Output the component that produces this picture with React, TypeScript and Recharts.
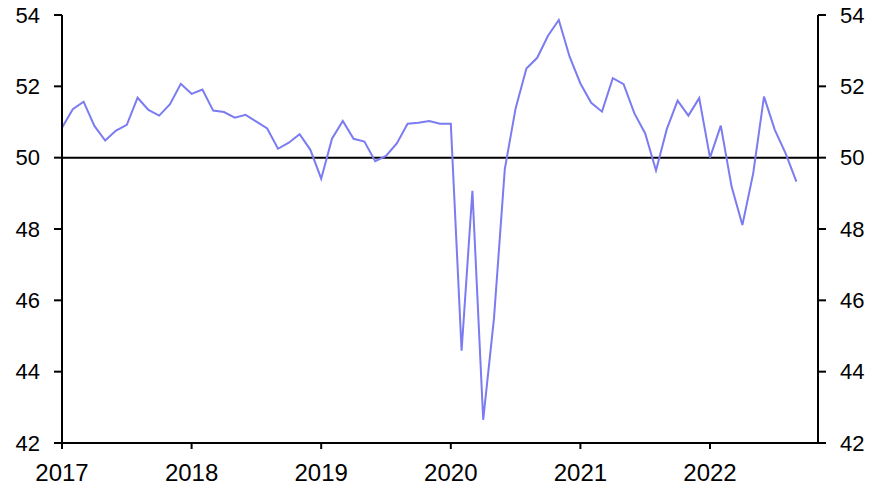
import React from "react";
import { LineChart, Line, XAxis, YAxis, ReferenceLine } from "recharts";

const values2017 = [50.84, 51.36, 51.57, 50.89, 50.48, 50.76, 50.92, 51.68, 51.34, 51.18, 51.5, 52.07];
const values2018 = [51.79, 51.91, 51.32, 51.28, 51.12, 51.2, 51.01, 50.82, 50.25, 50.42, 50.66, 50.22];
const values2019 = [49.41, 50.53, 51.03, 50.53, 50.45, 49.9, 50.05, 50.4, 50.95, 50.98, 51.03, 50.95];
const values2020 = [50.95, 44.59, 49.07, 42.65, 45.5, 49.68, 51.38, 52.5, 52.8, 53.42, 53.86, 52.83];
const values2021 = [52.08, 51.54, 51.29, 52.23, 52.06, 51.24, 50.68, 49.64, 50.8, 51.6, 51.18, 51.67];
const values2022 = [50.0, 50.9, 49.19, 48.11, 49.56, 51.71, 50.78, 50.12, 49.33];

const years = ["2017", "2018", "2019", "2020", "2021", "2022"];
const yTicks = [42, 44, 46, 48, 50, 52, 54];

const allValues = [...values2017, ...values2018, ...values2019, ...values2020, ...values2021, ...values2022];
const data = allValues.map((v, i) => ({ m: i, v }));
const xTicks = years.map((_, i) => i * 12);

const font = "'Liberation Sans', Arial, sans-serif";

export default function App() {
  return (
    <div style={{ position: "absolute", left: 0, top: 0, background: "#fff" }}>
      <LineChart width={883} height={495} data={data} margin={{ top: 15, right: 0, bottom: 0, left: 0 }}>
        <XAxis
          dataKey="m"
          type="number"
          domain={[0, 70]}
          ticks={xTicks}
          tickFormatter={(t: number) => years[Math.round(t / 12)]}
          height={52}
          stroke="#000"
          strokeWidth={2}
          tickSize={6}
          tickMargin={15}
          tick={{ fill: "#000", fontSize: 24, fontFamily: font }}
          allowDataOverflow
        />
        <YAxis
          yAxisId="left"
          orientation="left"
          domain={[42, 54]}
          ticks={yTicks}
          width={62}
          stroke="#000"
          strokeWidth={2}
          tickSize={8}
          tickMargin={14}
          tick={{ fill: "#000", fontSize: 22, fontFamily: font }}
          allowDataOverflow
        />
        <YAxis
          yAxisId="right"
          orientation="right"
          domain={[42, 54]}
          ticks={yTicks}
          width={65}
          stroke="#000"
          strokeWidth={2}
          tickSize={8}
          tickMargin={14}
          tick={{ fill: "#000", fontSize: 22, fontFamily: font }}
          allowDataOverflow
        />
        <ReferenceLine yAxisId="left" y={50} stroke="#000" strokeWidth={2} />
        <Line
          yAxisId="right"
          type="linear"
          dataKey="v"
          stroke="none"
          strokeWidth={0}
          dot={false}
          activeDot={false}
          isAnimationActive={false}
        />
        <Line
          yAxisId="left"
          type="linear"
          dataKey="v"
          stroke="#7b7bf2"
          strokeWidth={2}
          dot={false}
          isAnimationActive={false}
        />
      </LineChart>
    </div>
  );
}
